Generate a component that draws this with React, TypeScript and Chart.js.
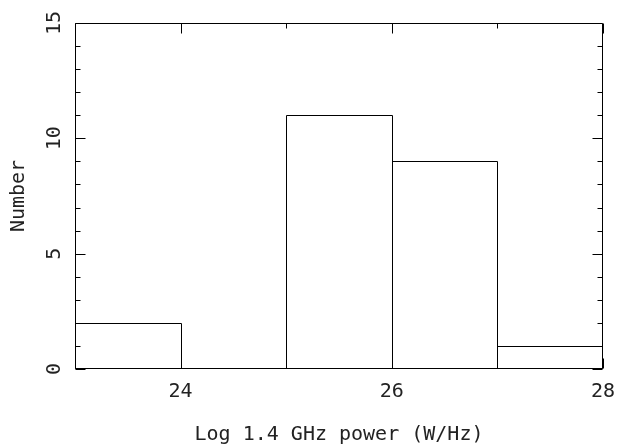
import React, { useEffect, useRef } from "react";
import { Chart, registerables } from "chart.js";

Chart.register(...registerables);

// ---- data ----
const binStarts = [23, 24, 25, 26, 27];
const binWidth = 1;
const counts = [2, 0, 11, 9, 1];
const xRange = [23, 28];
const yRange = [0, 15];
const xTickLabels = [24, 26, 28];
const yTickLabels = [0, 5, 10, 15];
const xMinorStep = 1;
const yMinorStep = 1;
const xTitle = "Log 1.4 GHz power (W/Hz)";
const yTitle = "Number";

const FONT = "'DejaVu Sans Mono', monospace";
const INK = "#222";

// Strokes each bar element (as laid out by Chart.js) as a 1px outline so
// adjacent histogram bins share a single edge, then draws the PGPLOT frame.
const framePlugin = {
  id: "pgframe",
  afterDatasetsDraw(chart: any) {
    const { ctx, chartArea, scales } = chart;
    const { left, right, top, bottom } = chartArea;
    const xs = scales.x;
    const ys = scales.y;
    const L = Math.floor(left) + 0.5;
    const R = Math.floor(right) - 0.5;
    const T = Math.floor(top) + 0.5;
    const B = Math.floor(bottom) - 0.5;
    ctx.save();
    ctx.strokeStyle = "#000";
    ctx.lineWidth = 1;

    const meta = chart.getDatasetMeta(0);
    ctx.beginPath();
    meta.data.forEach((el: any) => {
      const { x, y, base, width } = el.getProps(["x", "y", "base", "width"], true);
      if (Math.abs(base - y) < 0.5) return;
      const bl = Math.min(Math.max(Math.round(x - width / 2) + 0.5, L), R);
      const br = Math.min(Math.max(Math.round(x + width / 2) + 0.5, L), R);
      const bt = Math.round(y) + 0.5;
      const bb = B;
      ctx.rect(bl, bt, br - bl, bb - bt);
    });
    ctx.stroke();

    ctx.beginPath();
    ctx.rect(L, T, R - L, B - T);
    ctx.stroke();
    ctx.beginPath();
    for (let v = xRange[0]; v <= xRange[1] + 1e-9; v += xMinorStep) {
      const px = Math.round(xs.getPixelForValue(v)) + 0.5;
      const len = xTickLabels.includes(v) ? 10 : 5;
      ctx.moveTo(px, B);
      ctx.lineTo(px, B - len);
      ctx.moveTo(px, T);
      ctx.lineTo(px, T + len);
    }
    for (let v = yRange[0]; v <= yRange[1] + 1e-9; v += yMinorStep) {
      const py = Math.round(ys.getPixelForValue(v)) + 0.5;
      const len = yTickLabels.includes(v) ? 10 : 5;
      ctx.moveTo(L, py);
      ctx.lineTo(L + len, py);
      ctx.moveTo(R, py);
      ctx.lineTo(R - len, py);
    }
    ctx.stroke();
    ctx.restore();
  },
};

export default function App() {
  const ref = useRef<HTMLCanvasElement>(null);
  useEffect(() => {
    document.body.style.margin = "0";
    const chart = new Chart(ref.current!, {
      type: "bar",
      data: {
        datasets: [
          {
            data: binStarts.map((s, i) => ({ x: s + binWidth / 2, y: counts[i] })),
            backgroundColor: "rgba(0,0,0,0)",
            borderColor: "rgba(0,0,0,0)",
            borderWidth: 0,
            barPercentage: 1,
            categoryPercentage: 1,
          },
        ],
      },
      options: {
        responsive: false,
        animation: false,
        devicePixelRatio: 1,
        layout: { padding: { top: 23, right: 15, left: 0, bottom: 0 } },
        plugins: { legend: { display: false }, tooltip: { enabled: false } },
        scales: {
          x: {
            type: "linear",
            min: xRange[0],
            max: xRange[1],
            offset: false,
            grid: { display: false, offset: false },
            border: { display: false },
            afterBuildTicks: (s: any) => {
              s.ticks = xTickLabels.map((value) => ({ value }));
            },
            afterFit: (s: any) => {
              s.height = 76;
              s.paddingLeft = 0;
              s.paddingRight = 0;
            },
            ticks: {
              font: { family: FONT, size: 20, lineHeight: 1 },
              color: INK,
              padding: 5,
              maxRotation: 0,
              autoSkip: false,
            },
            title: {
              display: true,
              text: xTitle,
              font: { family: FONT, size: 20, lineHeight: 1 },
              color: INK,
              padding: { top: 0, bottom: 0 },
            },
          },
          y: {
            type: "linear",
            min: yRange[0],
            max: yRange[1],
            grid: { display: false },
            border: { display: false },
            afterBuildTicks: (s: any) => {
              s.ticks = yTickLabels.map((value) => ({ value }));
            },
            afterFit: (s: any) => {
              s.width = 75;
              s.paddingTop = 0;
              s.paddingBottom = 0;
            },
            ticks: {
              font: { family: FONT, size: 20, lineHeight: 1 },
              color: INK,
              padding: 0,
              minRotation: 90,
              maxRotation: 90,
              crossAlign: "center",
              autoSkip: false,
            },
            title: {
              display: true,
              text: yTitle,
              font: { family: FONT, size: 20, lineHeight: 1 },
              color: INK,
              padding: { top: 9, bottom: 0 },
            },
          },
        },
      },
      plugins: [framePlugin],
    } as any);
    return () => chart.destroy();
  }, []);
  return (
    <div style={{ width: 618, height: 445 }}>
      <canvas ref={ref} width={618} height={445} style={{ display: "block" }} />
    </div>
  );
}
